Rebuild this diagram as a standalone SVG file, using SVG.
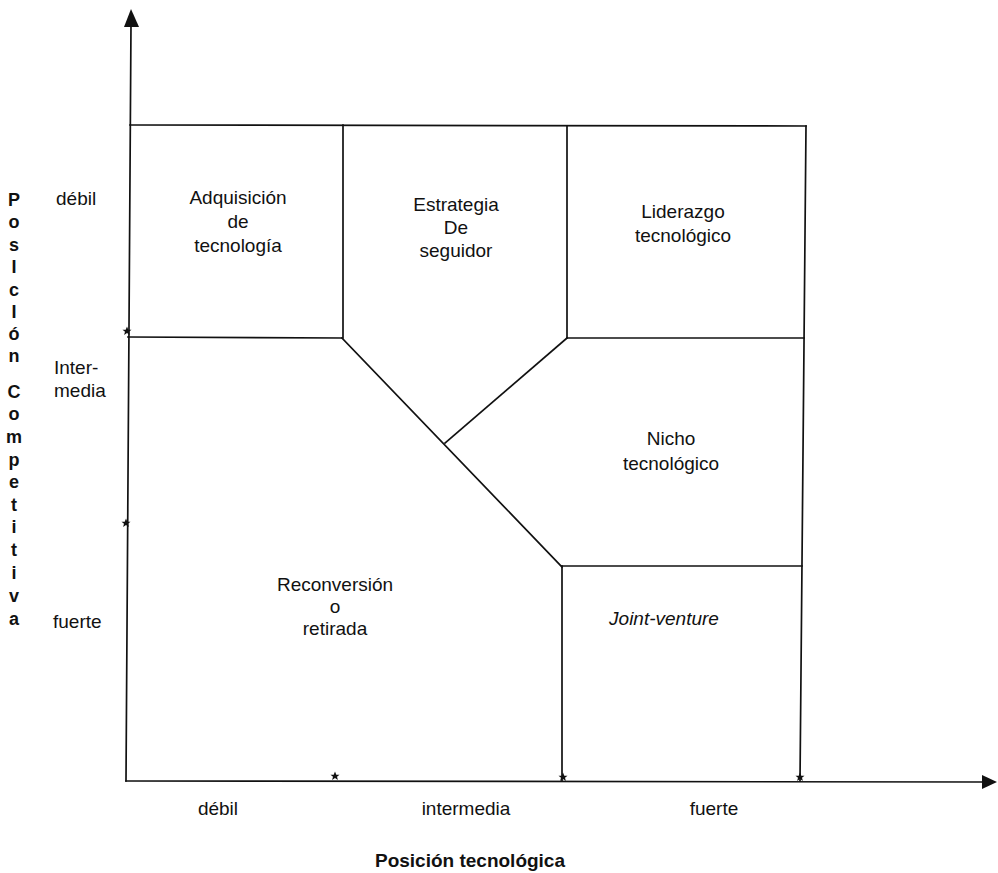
<svg xmlns="http://www.w3.org/2000/svg" width="998" height="873" viewBox="0 0 998 873">
  <style>
    .ln { stroke: #111; stroke-width: 1.7; fill: none; stroke-linecap: square; }
    .t { font-family: "Liberation Sans", Arial, sans-serif; font-size: 19px; fill: #111; text-anchor: middle; }
    .tl { font-family: "Liberation Sans", Arial, sans-serif; font-size: 19px; fill: #111; }
    .v { font-family: "Liberation Sans", Arial, sans-serif; font-size: 18px; font-weight: bold; fill: #111; text-anchor: middle; }
    .ttl { font-family: "Liberation Sans", Arial, sans-serif; font-size: 19px; font-weight: bold; fill: #111; text-anchor: middle; }
    .ar { fill: #111; }
  </style>
  <defs>
    <path id="star" d="M0,-4.5 L1.3,-1.3 L4.5,-1.3 L2,0.7 L2.9,4 L0,2 L-2.9,4 L-2,0.7 L-4.5,-1.3 L-1.3,-1.3 Z" fill="#111"/>
  </defs>
  <rect width="998" height="873" fill="#fff"/>

  <!-- axes and region borders -->
  <g id="connectors">
    <line class="ln" x1="131" y1="24" x2="126" y2="781"/>
    <polygon class="ar" points="131,9 124,27 139,27"/>
    <line class="ln" x1="126" y1="781" x2="984" y2="782"/>
    <polygon class="ar" points="997,782 982,775 982,789"/>

    <line class="ln" x1="130" y1="125" x2="806" y2="126"/>
    <line class="ln" x1="806" y1="126" x2="800" y2="781"/>
    <line class="ln" x1="343" y1="125" x2="343" y2="338"/>
    <line class="ln" x1="567" y1="126" x2="567" y2="338"/>
    <line class="ln" x1="128" y1="337" x2="342" y2="338"/>
    <line class="ln" x1="567" y1="338" x2="804" y2="338"/>
    <line class="ln" x1="342" y1="338" x2="562" y2="567"/>
    <line class="ln" x1="567" y1="338" x2="445" y2="443"/>
    <line class="ln" x1="562" y1="566" x2="802" y2="566"/>
    <line class="ln" x1="562" y1="566" x2="562" y2="781"/>

    <use href="#star" x="127" y="331"/>
    <use href="#star" x="126" y="523"/>
    <use href="#star" x="335" y="776"/>
    <use href="#star" x="563" y="777"/>
    <use href="#star" x="800" y="777"/>
  </g>

  <!-- strategy regions -->
  <g id="adquisicion">
    <text class="t" x="238" y="204">Adquisición</text>
    <text class="t" x="238" y="228">de</text>
    <text class="t" x="238" y="252">tecnología</text>
  </g>
  <g id="seguidor">
    <text class="t" x="456" y="211">Estrategia</text>
    <text class="t" x="456" y="234">De</text>
    <text class="t" x="456" y="257">seguidor</text>
  </g>
  <g id="liderazgo">
    <text class="t" x="683" y="218">Liderazgo</text>
    <text class="t" x="683" y="242">tecnológico</text>
  </g>
  <g id="nicho">
    <text class="t" x="671" y="445">Nicho</text>
    <text class="t" x="671" y="470">tecnológico</text>
  </g>
  <g id="reconversion">
    <text class="t" x="335" y="591">Reconversión</text>
    <text class="t" x="335" y="613">o</text>
    <text class="t" x="335" y="635">retirada</text>
  </g>
  <g id="joint-venture">
    <text class="t" x="664" y="625" font-style="italic">Joint-venture</text>
  </g>

  <!-- vertical axis labels -->
  <g id="eje-vertical">
    <text class="tl" x="56" y="205">débil</text>
    <text class="tl" x="54" y="374">Inter-</text>
    <text class="tl" x="54" y="397">media</text>
    <text class="tl" x="53" y="628">fuerte</text>
    <text class="v" x="14" y="206">P</text>
    <text class="v" x="14" y="228">o</text>
    <text class="v" x="14" y="251">s</text>
    <text class="v" x="14" y="273">I</text>
    <text class="v" x="14" y="296">c</text>
    <text class="v" x="14" y="318">I</text>
    <text class="v" x="14" y="340">ó</text>
    <text class="v" x="14" y="362">n</text>
    <text class="v" x="14" y="398">C</text>
    <text class="v" x="14" y="420">o</text>
    <text class="v" x="14" y="443">m</text>
    <text class="v" x="14" y="466">p</text>
    <text class="v" x="14" y="488">e</text>
    <text class="v" x="14" y="511">t</text>
    <text class="v" x="14" y="533">i</text>
    <text class="v" x="14" y="556">t</text>
    <text class="v" x="14" y="579">i</text>
    <text class="v" x="14" y="602">v</text>
    <text class="v" x="14" y="625">a</text>
  </g>

  <!-- horizontal axis labels -->
  <g id="eje-horizontal">
    <text class="t" x="218" y="815">débil</text>
    <text class="t" x="466" y="815">intermedia</text>
    <text class="t" x="714" y="815">fuerte</text>
    <text class="ttl" x="470" y="867">Posición tecnológica</text>
  </g>
</svg>
